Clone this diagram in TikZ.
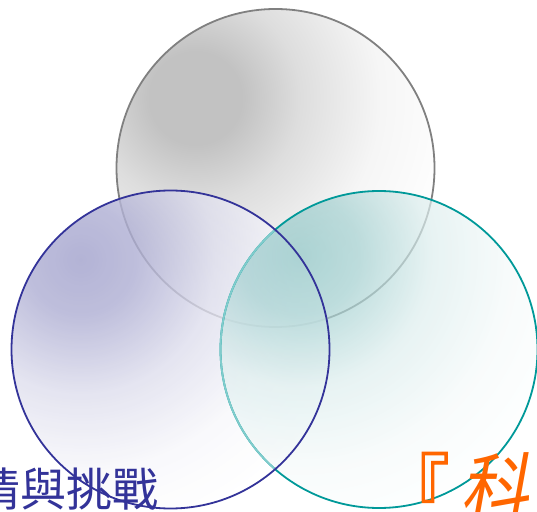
\documentclass[tikz,border=0pt]{standalone}
\usepackage{fontspec}
\newfontfamily\cjk{Noto Sans CJK TC}
\newfontfamily\cjkbd[FakeBold=1.5]{Noto Sans CJK TC}
\newfontfamily\cjksl[FakeSlant=0.2]{Noto Sans CJK TC}
\definecolor{grayline}{HTML}{808080}
\definecolor{blueline}{HTML}{333399}
\definecolor{tealline}{HTML}{009999}
\definecolor{grayfill}{HTML}{C2C2C2}
\definecolor{bluefill}{HTML}{A0A0CB}
\definecolor{tealfill}{HTML}{8CC4C4}
\definecolor{orangetext}{HTML}{FF6600}
\pgfdeclareradialshading{grayspot}{\pgfpoint{0bp}{0bp}}{color(0bp)=(grayfill); color(4bp)=(grayfill); color(9bp)=(grayfill!55); color(16bp)=(grayfill!15); color(23bp)=(white); color(50bp)=(white)}
\pgfdeclareradialshading{bluespot}{\pgfpoint{0bp}{0bp}}{color(0bp)=(bluefill); color(5bp)=(bluefill!85); color(12bp)=(bluefill!35); color(19bp)=(bluefill!8); color(25bp)=(white); color(50bp)=(white)}
\pgfdeclareradialshading{tealspot}{\pgfpoint{0bp}{0bp}}{color(0bp)=(tealfill); color(5bp)=(tealfill!80); color(11bp)=(tealfill!30); color(18bp)=(tealfill!8); color(25bp)=(white); color(50bp)=(white)}
\tikzset{
  ring/.style={line width=1.8pt},
}
\begin{document}
\begin{tikzpicture}[x=1pt,y=1pt]
\useasboundingbox (0,0) rectangle (537,511);
\coordinate (gc) at (275.5,343);
\coordinate (bc) at (170.5,161.5);
\coordinate (tc) at (379,161.5);
% gray (top) circle
\begin{scope}
  \clip (gc) circle (159);
  \shade[shading=grayspot] ([shift={(-80,70)}]gc) circle (290);
\end{scope}
\draw[ring, grayline] (gc) circle (159);
% blue (left) circle fill
\begin{scope}
  \clip (bc) circle (159);
  \shade[shading=bluespot, fill opacity=0.8] ([shift={(-90,90)}]bc) circle (280);
\end{scope}
% teal (right) circle fill
\begin{scope}
  \clip (tc) circle (158.5);
  \shade[shading=tealspot, fill opacity=0.7] ([shift={(-80,95)}]tc) circle (300);
\end{scope}
\draw[ring, tealline] (tc) circle (158.5);
\begin{scope}
  \clip (bc) circle (159);
  \draw[ring, tealline!50] (tc) circle (158.5);
\end{scope}
\draw[ring, blueline] (bc) circle (159);
% texts
\node[anchor=base east, inner sep=0pt, text=blueline, font=\cjk\fontsize{46}{46}\selectfont] (lt) at (159,4.5) {情與挑戰};
\node[anchor=base west, inner sep=0pt, xscale=0.9, text=orangetext, font=\fontsize{76}{76}\selectfont] (rt) at (381,-5.5) {{\cjkbd 『}\kern12pt{\cjksl 科}};
\end{tikzpicture}
\end{document}
